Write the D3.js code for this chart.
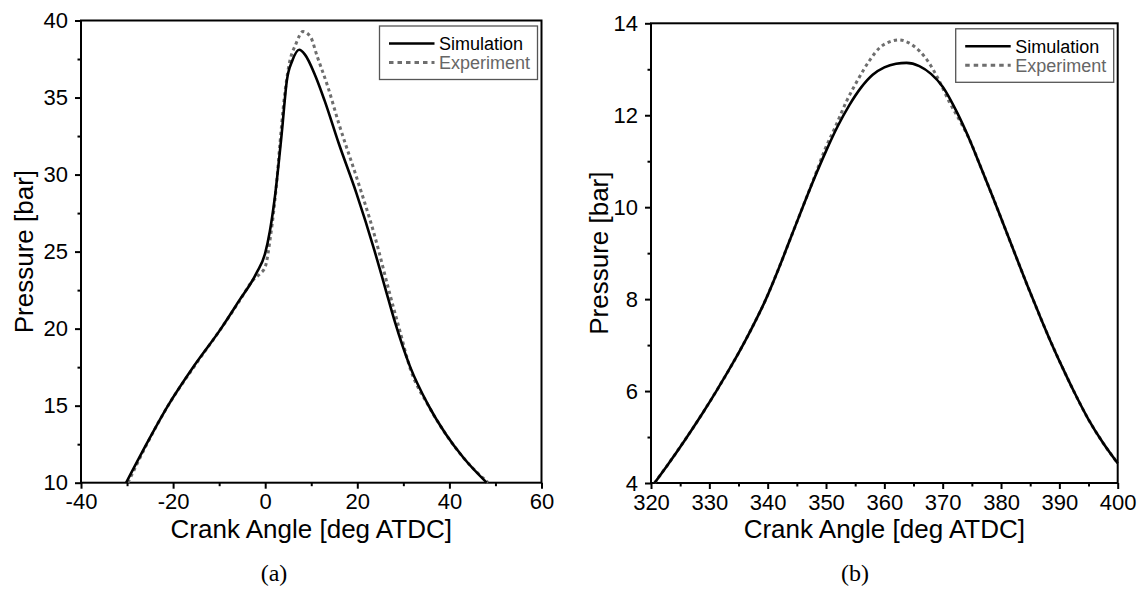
<!DOCTYPE html>
<html>
<head>
<meta charset="utf-8">
<script src="https://cdn.jsdelivr.net/npm/d3@7"></script>
<style>
  body { margin: 0; background: #fff; }
  svg { display: block; }
  text { font-family: "Liberation Sans", Arial, sans-serif; }
</style>
</head>
<body>
<div id="chart"></div>
<script>
// panel (a): [crank angle, pressure]
const simulationA = [
  [-30.2, 10], [-25.7, 12.55], [-21.2, 14.95], [-15.4, 17.6], [-9.6, 20], [-5.8, 21.75],
  [-1.9, 23.6], [0, 24.9], [1, 26.3], [2, 28.3], [3.6, 32.7],
  [4.7, 36.1], [5.9, 37.4], [7.4, 38.1], [8.6, 37.8], [10.9, 36.4], [12.9, 34.8],
  [16, 32.0], [19.8, 28.8], [23.7, 25.1], [26, 22.7], [28, 20.6], [31.5, 17.5], [35.3, 15.1],
  [39.2, 13.16], [43.1, 11.6], [48.1, 10]
]
const experimentA = [
  [-29.8, 10], [-25.7, 12.5], [-21.2, 14.95], [-15.4, 17.55], [-9.6, 20], [-5.8, 21.7],
  [-2.5, 23.2], [-1, 23.6], [0, 24.0], [1.2, 26.1], [2.4, 29.2], [3.2, 32.0],
  [4.1, 34.84], [5.1, 37.0], [6.7, 38.5], [8.2, 39.28], [9.8, 38.96], [11.3, 37.66],
  [13.6, 35.7], [16.0, 33.3], [19.8, 29.86], [23.7, 26.1], [27.2, 22.1], [29.2, 19.9],
  [31.5, 17.4], [35.35, 15.05], [39.2, 13.16], [43.1, 11.6], [48.4, 10]
]

// panel (b)
const simulationB = [
  [320.6, 4.0], [323, 4.42], [326, 4.97], [329, 5.55], [331.2, 6.0], [334, 6.6],
  [337, 7.3], [339.7, 8.0], [342, 8.7], [344, 9.35], [346, 10.0], [348, 10.63],
  [350, 11.22], [352, 11.76], [354, 12.22], [356, 12.6], [358, 12.88], [360, 13.04],
  [362, 13.12], [363.8, 13.14], [366, 13.07], [368, 12.9], [370, 12.62], [372.5, 12.05],
  [374.5, 11.5], [376.5, 10.88], [378.5, 10.25], [380.5, 9.6], [382.5, 8.95], [384.5, 8.3],
  [386.5, 7.68], [388.5, 7.08], [390.5, 6.52], [392.5, 5.99], [395, 5.38], [397.5, 4.87], [400, 4.43]
]
const experimentB = [
  [320.6, 4.0], [323, 4.42], [326, 4.97], [329, 5.55], [331.2, 6.0], [334, 6.6],
  [337, 7.3], [339.7, 8.0], [342, 8.7], [344, 9.35], [346, 10.0], [348, 10.65],
  [349.8, 11.25], [351.6, 11.75], [353.5, 12.3], [355.5, 12.78], [357.4, 13.18], [359.3, 13.48],
  [361, 13.6], [362.5, 13.64], [364.1, 13.58], [366, 13.4], [367.6, 13.15], [369.2, 12.8],
  [371.1, 12.3], [373.2, 11.82], [374.5, 11.5], [376.5, 10.88], [378.5, 10.25], [380.5, 9.6],
  [382.5, 8.95], [384.5, 8.3], [386.5, 7.68], [388.5, 7.08], [390.5, 6.52], [392.5, 5.99],
  [395, 5.38], [397.5, 4.87], [400, 4.43]
]

const xTicksA = [-40, -20, 0, 20, 40, 60]
const xMinorA = [-30, -10, 10, 30, 50]
const yTicksA = [10, 15, 20, 25, 30, 35, 40]
const yMinorA = [12.5, 17.5, 22.5, 27.5, 32.5, 37.5]
const xTicksB = [320, 330, 340, 350, 360, 370, 380, 390, 400]
const xMinorB = [325, 335, 345, 355, 365, 375, 385, 395]
const yTicksB = [4, 6, 8, 10, 12, 14]
const yMinorB = [5, 7, 9, 11, 13]

const seriesNames = ['Simulation', 'Experiment']
const xTitle = 'Crank Angle [deg ATDC]'
const yTitle = 'Pressure [bar]'
const captions = ['(a)', '(b)']

const width = 1137
const height = 594
const expColor = '#6e6e6e'

const svg = d3.select('#chart')
  .append('svg')
  .attr('width', width)
  .attr('height', height)

svg.append('rect').attr('width', width).attr('height', height).attr('fill', '#fff')

function drawPanel(p) {
  const x = d3.scaleLinear().domain(p.xDomain).range(p.xRange)
  const y = d3.scaleLinear().domain(p.yDomain).range(p.yRange)
  const g = svg.append('g')

  const fmt = d => String(d)

  // major ticks
  const xAxis = g.append('g')
    .attr('transform', `translate(0, ${p.yRange[0]})`)
    .call(d3.axisBottom(x).tickValues(p.xTicks).tickSize(6).tickSizeOuter(0).tickPadding(5).tickFormat(fmt))
  const yAxis = g.append('g')
    .attr('transform', `translate(${p.xRange[0]}, 0)`)
    .call(d3.axisLeft(y).tickValues(p.yTicks).tickSize(6).tickSizeOuter(0).tickPadding(7).tickFormat(fmt))

  // minor ticks
  const xMinor = g.append('g')
    .attr('transform', `translate(0, ${p.yRange[0]})`)
    .call(d3.axisBottom(x).tickValues(p.xMinor).tickSize(3.5).tickFormat(''))
  const yMinor = g.append('g')
    .attr('transform', `translate(${p.xRange[0]}, 0)`)
    .call(d3.axisLeft(y).tickValues(p.yMinor).tickSize(3.5).tickFormat(''))

  ;[xAxis, yAxis, xMinor, yMinor].forEach(a => {
    a.select('.domain').remove()
    a.selectAll('line').attr('stroke', '#000').attr('stroke-width', 2)
    a.selectAll('text').attr('font-size', 22).attr('fill', '#000')
      .style('font-family', '"Liberation Sans", Arial, sans-serif')
  })

  // frame
  g.append('rect')
    .attr('x', p.xRange[0])
    .attr('y', p.yRange[1])
    .attr('width', p.xRange[1] - p.xRange[0])
    .attr('height', p.yRange[0] - p.yRange[1])
    .attr('fill', 'none')
    .attr('stroke', '#000')
    .attr('stroke-width', 2)

  const line = d3.line()
    .x(d => x(d[0]))
    .y(d => y(d[1]))
    .curve(d3.curveMonotoneX)

  g.append('path')
    .datum(p.exp)
    .attr('d', line)
    .attr('fill', 'none')
    .attr('stroke', expColor)
    .attr('stroke-width', 3)
    .attr('stroke-dasharray', '3.3,3.3')

  g.append('path')
    .datum(p.sim)
    .attr('d', line)
    .attr('fill', 'none')
    .attr('stroke', '#000')
    .attr('stroke-width', 2.6)

  // legend
  const lw = 158
  const lh = 53.5
  const leg = g.append('g')
    .attr('transform', `translate(${p.xRange[1] - 4 - lw}, ${p.yRange[1] + 5.5})`)
  leg.append('rect')
    .attr('width', lw)
    .attr('height', lh)
    .attr('fill', '#fff')
    .attr('stroke', '#555')
    .attr('stroke-width', 1.3)
  const rows = [
    { name: seriesNames[0], ly: 17.5, ty: 24, color: '#000', text: '#000', dash: null, w: 2.6 },
    { name: seriesNames[1], ly: 36.5, ty: 42.8, color: expColor, text: '#666', dash: '4.5,4', w: 3 }
  ]
  rows.forEach(r => {
    leg.append('line')
      .attr('x1', 9.5).attr('x2', 55)
      .attr('y1', r.ly).attr('y2', r.ly)
      .attr('stroke', r.color)
      .attr('stroke-width', r.w)
      .attr('stroke-dasharray', r.dash)
    leg.append('text')
      .attr('x', 59.5)
      .attr('y', r.ty)
      .attr('font-size', 18)
      .attr('fill', r.text)
      .text(r.name)
  })

  // titles
  g.append('text')
    .attr('x', (p.xRange[0] + p.xRange[1]) / 2)
    .attr('y', 538)
    .attr('text-anchor', 'middle')
    .attr('font-size', 26)
    .text(xTitle)
  g.append('text')
    .attr('transform', `translate(${p.yTitleX}, ${(p.yRange[0] + p.yRange[1]) / 2}) rotate(-90)`)
    .attr('text-anchor', 'middle')
    .attr('font-size', 26)
    .text(yTitle)

  g.append('text')
    .attr('x', p.capX)
    .attr('y', 581)
    .attr('text-anchor', 'middle')
    .attr('font-size', 24)
    .style('font-family', '"Liberation Serif", "Times New Roman", serif')
    .text(p.caption)
}

drawPanel({
  xDomain: [-40, 60], yDomain: [10, 40],
  xRange: [81, 541.5], yRange: [482.7, 20.5],
  xTicks: xTicksA, xMinor: xMinorA, yTicks: yTicksA, yMinor: yMinorA,
  sim: simulationA, exp: experimentA,
  yTitleX: 33, capX: 274, caption: captions[0]
})

drawPanel({
  xDomain: [320, 400], yDomain: [4, 14],
  xRange: [651, 1117.7], yRange: [483, 23.3],
  xTicks: xTicksB, xMinor: xMinorB, yTicks: yTicksB, yMinor: yMinorB,
  sim: simulationB, exp: experimentB,
  yTitleX: 608, capX: 855, caption: captions[1]
})
</script>
</body>
</html>
